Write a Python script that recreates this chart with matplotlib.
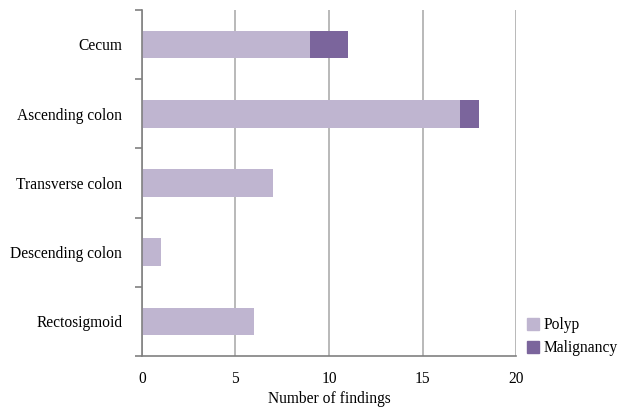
import numpy as np
import matplotlib
matplotlib.use("Agg")
import matplotlib.pyplot as plt
import matplotlib.patches as mpatches

categories = ["Cecum", "Ascending colon", "Transverse colon", "Descending colon", "Rectosigmoid"]
polyp = [9, 17, 7, 1, 6]
malignancy = [2, 1, 0, 0, 0]
x_ticks = [0, 5, 10, 15, 20]

POLYP_COLOR = "#BFB5D0"
MALIG_COLOR = "#7B659C"
FS = 11.2

plt.rcParams["font.family"] = ["Liberation Serif", "DejaVu Serif"]

fig = plt.figure(figsize=(6.22, 4.12), dpi=100)
ax = fig.add_axes([0.228, 0.136, 0.602, 0.840])

n = len(categories)
y = np.arange(n)[::-1]
ax.barh(y, polyp, height=0.4, color=POLYP_COLOR, zorder=2)
ax.barh(y, malignancy, left=polyp, height=0.4, color=MALIG_COLOR, zorder=2)

ax.set_xlim(0, 20)
ax.set_ylim(-0.5, n - 0.5)
ax.set_xticks(x_ticks)
ax.set_xticklabels([str(t) for t in x_ticks], fontsize=FS)
ax.tick_params(axis="x", length=0, pad=11)
ax.grid(axis="x", color="#A6A6A6", linewidth=1.1, zorder=0)

# category boundaries as ticks, labels centred on the bars
ax.set_yticks(np.arange(n + 1) - 0.5)
ax.set_yticklabels([])
ax.tick_params(axis="y", which="major", length=5, color="#808080", width=1.2)
ax.set_yticks(y, minor=True)
ax.set_yticklabels(categories, minor=True, fontsize=FS)
ax.tick_params(axis="y", which="minor", length=0, pad=14)

for s in ["top", "right"]:
    ax.spines[s].set_visible(False)
for s in ["left", "bottom"]:
    ax.spines[s].set_color("#808080")
    ax.spines[s].set_linewidth(1.2)

ax.set_xlabel("Number of findings", fontsize=FS, labelpad=3)

handles = [mpatches.Patch(color=POLYP_COLOR, label="Polyp"),
           mpatches.Patch(color=MALIG_COLOR, label="Malignancy")]
fig.legend(handles=handles, loc="upper left", bbox_to_anchor=(0.838, 0.245),
           frameon=False, fontsize=FS, handlelength=0.75, handleheight=0.75,
           handletextpad=0.3, labelspacing=0.45, borderaxespad=0)

fig.savefig("out.png", dpi=100)
